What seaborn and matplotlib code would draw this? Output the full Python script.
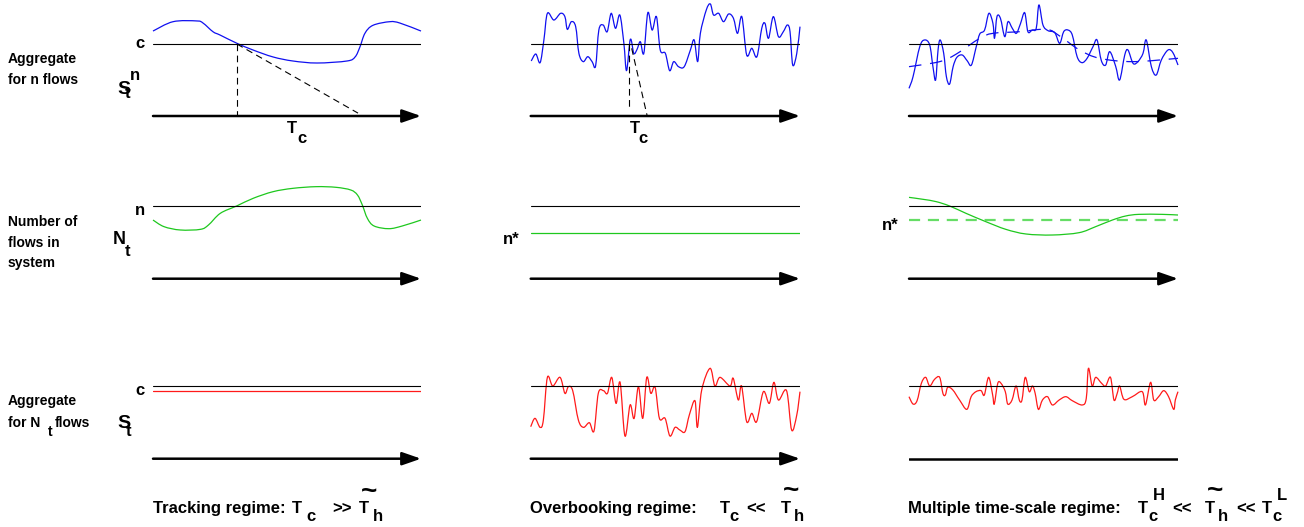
import numpy as np
import matplotlib
matplotlib.use("Agg")
import matplotlib.pyplot as plt
from matplotlib.path import Path
from matplotlib.patches import PathPatch
import seaborn as sns

# time runs 0..100 in every panel, level 0 = time axis, level 1 = capacity c / n

# tracking regime, aggregate of n flows
track_t = [0, 7.5, 16.4, 18.7, 22.4, 25, 31.3, 37.3, 44.8, 52.2, 61.2, 72.4, 75.4,
           77.2, 79.1, 82.1, 88.4, 92.2, 100]
track_s = [1.18, 1.31, 1.32, 1.29, 1.17, 1.125, 1.01, 0.917, 0.82, 0.764, 0.736, 0.764,
           0.82, 0.958, 1.15, 1.26, 1.31, 1.29, 1.18]
track_tc = [31.3, 76.5]          # crossing time, tangent hits axis
track_tc_end = 0.04

# tracking regime, number of flows
track_nt_t = [0, 4.1, 10.2, 17.7, 20.7, 25.1, 31.2, 37.4, 44.8, 52.2, 60.9, 68.3, 73.8,
              76.3, 78.1, 80.0, 82.5, 88.0, 93.0, 100]
track_nt = [0.807, 0.716, 0.670, 0.679, 0.739, 0.899, 1.0, 1.106, 1.197, 1.243, 1.266,
            1.257, 1.220, 1.151, 1.014, 0.830, 0.725, 0.688, 0.725, 0.807]
track_agg_level = 0.936

# overbooking regime, aggregate of n flows
over_t = [0.2, 1.9, 3.5, 4.9, 6.2, 8.6, 11.1, 12.7, 13.6, 15.1, 16.7, 17.9, 19.5, 21.2,
          22.8, 24.1, 25.3, 26.9, 28.4, 29.9, 31.5, 33.1, 34.6, 35.6, 37.0, 38.3, 39.5,
          40.7, 42.0, 43.5, 45.1, 46.7, 48.1, 50.0, 51.6, 53.1, 54.9, 57.0, 59.3, 60.7,
          62.0, 63.0, 65.2, 66.7, 67.9, 69.8, 71.6, 73.5, 75.3, 76.8, 78.4, 80.2, 82.1,
          84.0, 85.8, 87.0, 88.3, 90.1, 92.0, 93.8, 95.3, 96.3, 97.3, 98.8, 100]
over_s = [0.764, 0.861, 0.741, 1.056, 1.426, 1.333, 1.426, 1.38, 1.204, 1.31, 1.241,
          0.870, 0.755, 0.824, 0.755, 0.694, 1.194, 1.264, 1.171, 1.426, 1.218, 1.403,
          1.009, 0.630, 1.065, 0.870, 0.926, 1.032, 0.870, 1.435, 1.194, 1.380, 0.917,
          0.870, 0.630, 0.755, 0.685, 0.685, 0.917, 1.056, 0.755, 1.148, 1.472, 1.556,
          1.403, 1.426, 1.310, 1.417, 1.356, 1.148, 1.380, 0.847, 0.940, 0.824, 1.218,
          1.287, 1.079, 1.380, 1.102, 1.171, 1.264, 1.171, 0.708, 0.870, 1.241]
over_tc = [36.6, 37.5, 43.2]
over_tc_levels = [1.0, 0.08, 0.94, 0.01]
over_nstar = 0.633

# overbooking regime, aggregate of N_t flows
over_agg_t = [0, 1.6, 3.5, 4.7, 6.2, 8.2, 10.9, 12.7, 14.0, 15.6, 17.7, 19.6, 21.8, 23.5,
              25.1, 27.0, 28.5, 30.1, 31.7, 33.2, 35.0, 36.9, 38.4, 40.0, 41.6, 43.1,
              44.6, 46.2, 47.8, 49.9, 51.7, 53.6, 55.4, 57.3, 58.9, 61.0, 61.9, 63.5,
              66.6, 68.4, 70.3, 74.0, 75.2, 77.1, 78.3, 80.2, 82.1, 83.9, 86.4, 88.6,
              90.3, 92.0, 95.0, 96.9, 98.8, 100]
over_agg = [0.44, 0.555, 0.431, 0.532, 1.119, 1.0, 1.119, 0.899, 0.991, 0.936, 0.532,
            0.431, 0.495, 0.381, 0.899, 0.936, 0.899, 1.119, 0.761, 1.05, 0.312, 0.739,
            0.555, 0.991, 0.555, 1.119, 0.899, 0.982, 0.555, 0.555, 0.312, 0.431, 0.394,
            0.372, 0.601, 0.798, 0.431, 0.945, 1.243, 1.0, 1.119, 1.0, 1.106, 0.807, 1.0,
            0.509, 0.624, 0.509, 0.922, 0.761, 1.05, 0.807, 0.936, 0.394, 0.601, 0.922]

# multiple time-scale regime, aggregate of n flows
multi_t = [0, 1.5, 4.0, 5.8, 7.7, 8.9, 9.9, 10.8, 11.6, 12.9, 13.9, 15.1, 16.4, 17.8,
           19.8, 21.6, 23.2, 25.0, 26.3, 28.1, 29.7, 31.2, 31.8, 32.7, 34.0, 35.6, 36.8,
           38.4, 39.9, 41.4, 43.0, 44.2, 45.8, 47.3, 48.3, 49.8, 51.7, 54.2, 56.0, 57.5,
           59.1, 60.7, 62.5, 64.3, 66.2, 68.4, 69.9, 71.5, 73.1, 74.6, 76.8, 78.3, 80.2,
           81.4, 83.3, 85.1, 87.0, 88.2, 90.1, 91.9, 93.8, 96.3, 98.1, 100]
multi_s = [0.384, 0.546, 0.963, 1.056, 0.986, 0.685, 0.5, 0.917, 1.056, 0.870, 0.546,
           0.444, 0.685, 0.815, 0.847, 0.769, 0.708, 0.963, 1.139, 1.194, 1.426, 1.287,
           1.079, 1.380, 1.356, 1.102, 1.310, 1.218, 1.148, 1.278, 1.435, 1.171, 1.194,
           1.218, 1.542, 1.264, 1.185, 1.157, 1.009, 1.171, 1.194, 1.125, 0.824, 0.741,
           0.801, 0.963, 1.056, 0.769, 0.708, 0.894, 0.694, 0.5, 0.847, 0.917, 0.731,
           0.755, 0.870, 1.056, 0.685, 0.569, 0.778, 0.917, 0.880, 0.708]
multi_trend_t = [0, 11.4, 17.6, 26.3, 31.2, 41.1, 51.1, 56.0, 63.4, 70.9, 83.3, 100]
multi_trend = [0.685, 0.755, 0.861, 1.079, 1.148, 1.171, 1.204, 1.111, 0.917, 0.801,
               0.755, 0.801]

# multiple time-scale regime, number of flows
multi_nt_t = [0, 5.2, 10.1, 15.1, 21.2, 28.6, 36.0, 43.5, 53.3, 63.2, 69.4, 75.6, 80.5,
              85.4, 94.1, 100]
multi_nt = [1.119, 1.092, 1.060, 1.0, 0.899, 0.784, 0.679, 0.615, 0.601, 0.633, 0.716,
            0.807, 0.862, 0.885, 0.885, 0.876]
multi_nstar = 0.807

# multiple time-scale regime, aggregate of N_t flows
multi_agg_t = [0, 1.5, 3.0, 4.6, 6.2, 7.7, 9.5, 11.4, 12.6, 13.5, 14.4, 16.3, 18.8, 21.5,
               23.1, 24.9, 26.8, 28.0, 29.6, 31.1, 31.7, 33.0, 34.2, 35.8, 36.7, 38.3,
               39.8, 41.0, 42.0, 43.2, 44.7, 45.9, 46.9, 48.1, 49.6, 51.5, 53.3, 55.8,
               58.3, 60.7, 64.4, 65.9, 66.7, 68.1, 69.4, 71.6, 73.1, 74.9, 76.2, 77.4,
               78.3, 79.9, 83.0, 86.7, 87.9, 89.8, 91.0, 92.8, 94.7, 96.5, 98.4, 99.0, 100]
multi_agg = [0.853, 0.752, 0.798, 1.037, 1.119, 1.0, 1.092, 1.119, 0.899, 0.876, 0.982,
             0.945, 0.807, 0.679, 0.853, 0.922, 0.936, 0.876, 1.119, 0.876, 0.752, 1.037,
             1.037, 0.922, 0.752, 0.807, 1.0, 0.807, 0.807, 1.119, 0.922, 1.0, 0.899,
             0.679, 0.807, 0.853, 0.739, 0.807, 0.853, 0.798, 0.739, 0.830, 1.243, 1.0,
             1.119, 1.037, 1.0, 1.119, 0.807, 0.899, 1.0, 0.817, 0.853, 0.922, 0.739,
             1.050, 0.807, 0.853, 0.936, 0.853, 0.679, 0.807, 0.922]

BLUE = "#1010f0"
GREEN = "#1ec81e"
LIGHT_GREEN = "#66dd66"
RED = "#ff1a1a"

W, H = 1304, 527
col_px = [(153, 421), (530.7, 800), (909, 1178)]
row_axis_px = [116, 278.7, 458.7]
row_unit_px = [72, 72.7, 72.7]
LO, HI = -0.3, 1.7

sns.set_theme(style="white")
plt.rcParams['font.family'] = ['Liberation Sans', 'DejaVu Sans']
plt.rcParams['font.weight'] = 'bold'

fig = plt.figure(figsize=(W / 100, H / 100), dpi=100)


def panel(col, row):
    x0, x1 = col_px[col]
    ya, u = row_axis_px[row], row_unit_px[row]
    bottom = ya - LO * u
    top = ya - HI * u
    ax = fig.add_axes([x0 / W, 1 - bottom / H, (x1 - x0) / W, (bottom - top) / H])
    ax.set_xlim(0, 100)
    ax.set_ylim(LO, HI)
    ax.axis('off')
    return ax


def hline(ax, level, color='black', lw=0.8, ls='-'):
    sns.lineplot(x=[0, 100], y=[level, level], ax=ax, color=color, lw=lw,
                 linestyle=ls, estimator=None, sort=False, legend=False)


def seg(ax, xs, ys, lw=0.8, ls=(0, (6, 4)), color='black'):
    sns.lineplot(x=xs, y=ys, ax=ax, color=color, lw=lw, linestyle=ls,
                 estimator=None, sort=False, legend=False)


def time_axis(ax, arrow=True):
    if arrow:
        ax.annotate("", xy=(100, 0), xytext=(0, 0), annotation_clip=False,
                    arrowprops=dict(arrowstyle="-|>,head_length=0.95,head_width=0.33",
                                    color='black', lw=1.8, shrinkA=0, shrinkB=0))
    else:
        hline(ax, 0, lw=1.8)


def smooth(ax, t, s, color, lw=0.9, ls='-'):
    # spline through the read points, drawn as bezier segments
    p = np.column_stack([t, s]).astype(float)
    n = len(p)
    verts, codes = [p[0]], [Path.MOVETO]
    for i in range(n - 1):
        a, b = p[max(i - 1, 0)], p[i]
        c, d = p[i + 1], p[min(i + 2, n - 1)]
        verts += [b + (c - a) / 6, c - (d - b) / 6, c]
        codes += [Path.CURVE4] * 3
    ax.add_patch(PathPatch(Path(verts, codes), fill=False, edgecolor=color, lw=lw,
                           linestyle=ls, clip_on=False))


# row 1: aggregate of n flows
ax = panel(0, 0)
hline(ax, 1)
smooth(ax, track_t, track_s, BLUE)
seg(ax, [track_tc[0], track_tc[0]], [1, 0])
seg(ax, [track_tc[0], track_tc[1]], [1, track_tc_end])
time_axis(ax)

ax = panel(1, 0)
hline(ax, 1)
smooth(ax, over_t, over_s, BLUE)
seg(ax, [over_tc[0], over_tc[0]], over_tc_levels[:2])
seg(ax, over_tc[1:], over_tc_levels[2:])
time_axis(ax)

ax = panel(2, 0)
hline(ax, 1)
smooth(ax, multi_trend_t, multi_trend, BLUE, lw=0.9, ls=(0, (10, 7)))
smooth(ax, multi_t, multi_s, BLUE)
time_axis(ax)

# row 2: number of flows
ax = panel(0, 1)
hline(ax, 1)
smooth(ax, track_nt_t, track_nt, GREEN)
time_axis(ax)

ax = panel(1, 1)
hline(ax, 1)
hline(ax, over_nstar, color=GREEN, lw=0.9)
time_axis(ax)

ax = panel(2, 1)
hline(ax, 1)
hline(ax, multi_nstar, color=LIGHT_GREEN, lw=1.6, ls=(0, (5, 3.5)))
smooth(ax, multi_nt_t, multi_nt, GREEN)
time_axis(ax)

# row 3: aggregate of N_t flows
ax = panel(0, 2)
hline(ax, 1)
hline(ax, track_agg_level, color=RED, lw=0.9)
time_axis(ax)

ax = panel(1, 2)
hline(ax, 1)
smooth(ax, over_agg_t, over_agg, RED)
time_axis(ax)

ax = panel(2, 2)
hline(ax, 1)
smooth(ax, multi_agg_t, multi_agg, RED)
time_axis(ax, arrow=False)

# text layer in pixel units
tx = fig.add_axes([0, 0, 1, 1])
tx.set_xlim(0, W)
tx.set_ylim(H, 0)
tx.axis('off')
tx.patch.set_alpha(0)

labels = [
    (8, 63, "Aggregate", 10), (8, 84, "for n flows", 10),
    (8, 226, "Number of", 10), (8, 247, "flows in", 10), (8, 267, "system", 10),
    (8, 405, "Aggregate", 10), (8, 427, "for N", 10), (48, 436, "t", 10),
    (55, 427, "flows", 10),
    (117, 94, "S", 14), (130, 80, "n", 12), (125, 98, "t", 12), (135, 48, "c", 12),
    (287, 133, "T", 12), (297, 143, "c", 12), (630, 133, "T", 12), (638, 143, "c", 12),
    (135, 215, "n", 12), (113, 244, "N", 13), (125, 256, "t", 12),
    (503, 244, "n*", 12), (882, 230, "n*", 12),
    (135, 395, "c", 12), (117, 428, "S", 14), (126, 436, "t", 12),
    (153, 513, "Tracking regime:", 12), (292, 513, "T", 12), (306, 521, "c", 12),
    (332, 513, ">>", 12), (359, 513, "T", 12), (361, 499, "~", 20), (373, 521, "h", 12),
    (530, 513, "Overbooking regime:", 12), (720, 513, "T", 12), (729, 521, "c", 12),
    (746, 513, "<<", 12), (781, 513, "T", 12), (783, 498, "~", 20), (794, 521, "h", 12),
    (908, 513, "Multiple time-scale regime:", 12), (1138, 513, "T", 12),
    (1153, 500, "H", 12), (1148, 521, "c", 12), (1172, 513, "<<", 12),
    (1205, 513, "T", 12), (1207, 498, "~", 20), (1218, 521, "h", 12),
    (1236, 513, "<<", 12), (1262, 513, "T", 12), (1277, 500, "L", 12),
    (1272, 521, "c", 12),
]
for x, y, s, size in labels:
    tx.text(x, y, s, fontsize=size, fontweight='bold', color='black',
            ha='left', va='baseline')

fig.savefig("out.png", dpi=100)
